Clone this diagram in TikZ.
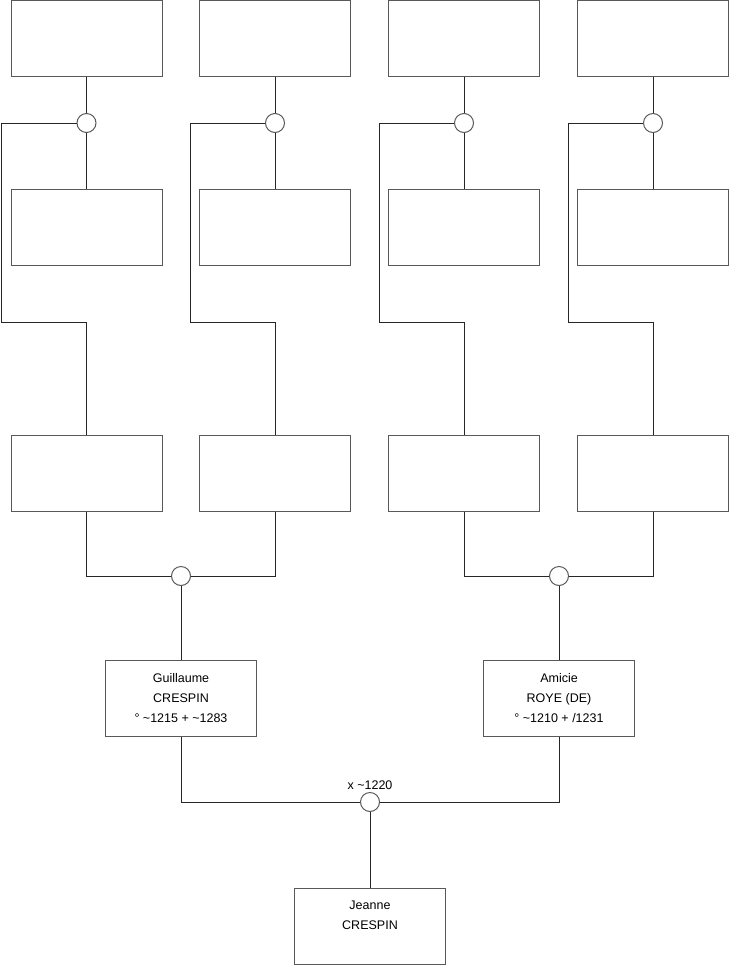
\documentclass[tikz,border=0pt]{standalone}
\usepackage{fontspec}
\setmainfont{Liberation Sans}
\begin{document}
\begin{tikzpicture}[x=1pt,y=-1pt,
  box/.style={draw=black!65, fill=white, line width=1pt, minimum width=151pt, minimum height=76pt, inner sep=0pt, font=\fontsize{12.5}{20}\selectfont, align=center},
  knot/.style={circle, draw=black!65, fill=white, line width=1pt, minimum size=19pt, inner sep=0pt},
  link/.style={draw=black!85, line width=1pt},
  lbl/.style={font=\fontsize{12.5}{15}\selectfont, inner sep=0pt}]
\useasboundingbox (0,0) rectangle (740,975);
\foreach \i/\x in {1/86.5,2/275,3/464,4/653}{
  \node[box] (t\i) at (\x,38) {};
  \node[box] (m\i) at (\x,227) {};
  \node[box] (b\i) at (\x,473) {};
  \node[knot] (k\i) at (\x,123) {};
}
\foreach \i/\x/\l in {1/86.5/1,2/275/190,3/464/379,4/653/568}{
  \coordinate (a\i) at (\l,123);
  \coordinate (c\i) at (\l,322);
  \coordinate (d\i) at (\x,322);
  \draw[link] (t\i) -- (k\i);
  \draw[link] (k\i) -- (m\i);
  \draw[link] (k\i.west) -- (a\i) -- (c\i) -- (d\i) -- (b\i.north);
}
\node[knot] (p1) at (181,576) {};
\node[knot] (p2) at (559,576) {};
\draw[link] (b1.south) |- (p1);
\draw[link] (b2.south) |- (p1);
\draw[link] (b3.south) |- (p2);
\draw[link] (b4.south) |- (p2);
\node[box] (g) at (181,698) {Guillaume\\CRESPIN\\° \textasciitilde1215 + \textasciitilde1283};
\node[box] (am) at (559,698) {Amicie\\ROYE (DE)\\° \textasciitilde1210 + /1231};
\draw[link] (p1) -- (g);
\draw[link] (p2) -- (am);
\node[knot] (x) at (370,802) {};
\node[lbl] (xl) at (370,785) {x \textasciitilde1220};
\draw[link] (g.south) |- (x);
\draw[link] (am.south) |- (x);
\node[box] (j) at (370,926) {};
\node[font=\fontsize{12.5}{20}\selectfont, align=center, inner sep=0pt] (jt) at (370,915) {Jeanne\\CRESPIN};
\draw[link] (x) -- (j);
\end{tikzpicture}
\end{document}
